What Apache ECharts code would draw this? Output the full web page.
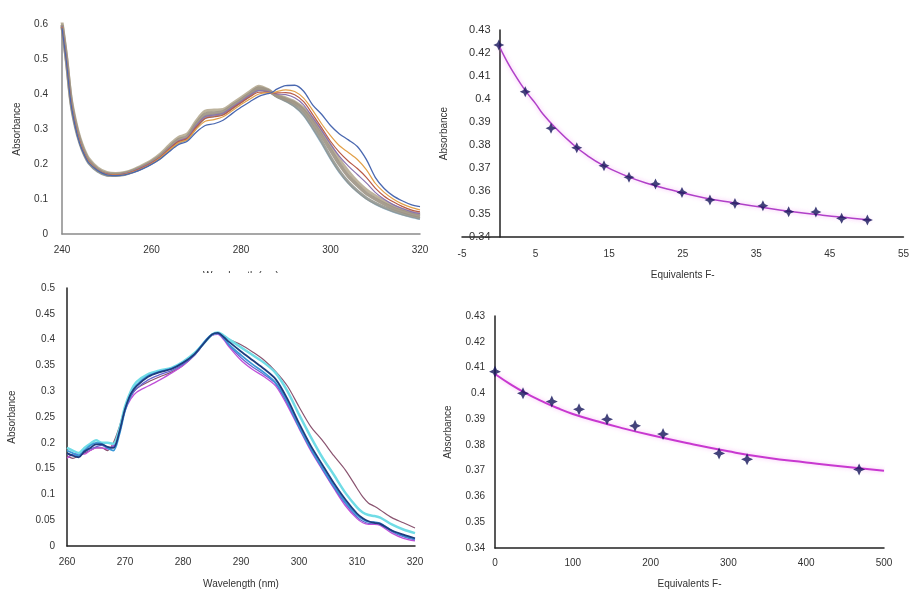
<!DOCTYPE html>
<html>
<head>
<meta charset="utf-8">
<script src="https://cdn.jsdelivr.net/npm/echarts@6/dist/echarts.min.js"></script>
<style>
  html, body { margin: 0; padding: 0; background: #fff; }
  #container { width: 912px; height: 590px; }
</style>
</head>
<body>
<div id="container"></div>
<script>
// ---- top left: titration spectra, 240-320 nm
var wl1 = [240, 241, 242, 243, 244, 245, 246, 248, 250, 252, 254, 256, 258, 260, 262, 264, 266, 268, 270, 272, 274, 276, 278, 280, 282, 284, 286, 287, 288, 290, 292, 294, 296, 298, 300, 302, 304, 306, 308, 310, 312, 314, 316, 318, 320];
var specBlue = [0.588, 0.49, 0.373, 0.305, 0.257, 0.226, 0.203, 0.181, 0.169, 0.167, 0.169, 0.176, 0.186, 0.199, 0.215, 0.236, 0.255, 0.265, 0.291, 0.31, 0.315, 0.325, 0.344, 0.362, 0.378, 0.393, 0.401, 0.405, 0.414, 0.424, 0.425, 0.408, 0.369, 0.342, 0.31, 0.286, 0.269, 0.25, 0.213, 0.162, 0.13, 0.109, 0.095, 0.084, 0.078];
var specOrange = [0.59, 0.492, 0.376, 0.308, 0.26, 0.228, 0.205, 0.182, 0.17, 0.168, 0.17, 0.178, 0.188, 0.201, 0.218, 0.24, 0.26, 0.27, 0.3, 0.322, 0.327, 0.335, 0.352, 0.37, 0.386, 0.4, 0.403, 0.403, 0.407, 0.412, 0.407, 0.388, 0.354, 0.315, 0.281, 0.252, 0.233, 0.213, 0.184, 0.145, 0.119, 0.1, 0.086, 0.076, 0.069];
var specRed = [0.592, 0.495, 0.378, 0.31, 0.262, 0.229, 0.206, 0.182, 0.171, 0.169, 0.171, 0.179, 0.19, 0.203, 0.22, 0.243, 0.264, 0.273, 0.305, 0.33, 0.335, 0.34, 0.358, 0.375, 0.392, 0.405, 0.405, 0.403, 0.403, 0.404, 0.398, 0.378, 0.342, 0.304, 0.265, 0.233, 0.208, 0.187, 0.162, 0.131, 0.108, 0.092, 0.079, 0.069, 0.063];
var specPurple = [0.594, 0.497, 0.38, 0.312, 0.264, 0.23, 0.207, 0.183, 0.171, 0.169, 0.172, 0.18, 0.191, 0.204, 0.221, 0.245, 0.266, 0.275, 0.31, 0.336, 0.34, 0.345, 0.362, 0.379, 0.397, 0.41, 0.407, 0.403, 0.4, 0.398, 0.389, 0.369, 0.333, 0.296, 0.257, 0.222, 0.194, 0.17, 0.146, 0.119, 0.099, 0.084, 0.073, 0.064, 0.058];
var specGrayHi = [0.607, 0.51, 0.393, 0.325, 0.275, 0.24, 0.215, 0.189, 0.176, 0.173, 0.176, 0.184, 0.196, 0.21, 0.229, 0.254, 0.276, 0.286, 0.323, 0.351, 0.354, 0.356, 0.372, 0.389, 0.407, 0.422, 0.413, 0.404, 0.397, 0.389, 0.378, 0.36, 0.33, 0.293, 0.254, 0.213, 0.179, 0.15, 0.127, 0.109, 0.094, 0.081, 0.071, 0.063, 0.057];
var specGrayMid = [0.597, 0.5, 0.383, 0.315, 0.267, 0.233, 0.209, 0.184, 0.172, 0.17, 0.173, 0.181, 0.192, 0.206, 0.223, 0.247, 0.269, 0.278, 0.315, 0.342, 0.346, 0.349, 0.366, 0.383, 0.401, 0.417, 0.41, 0.403, 0.395, 0.385, 0.374, 0.354, 0.32, 0.281, 0.24, 0.199, 0.165, 0.139, 0.116, 0.1, 0.086, 0.074, 0.065, 0.057, 0.051];
var specGrayLo = [0.592, 0.49, 0.373, 0.305, 0.259, 0.226, 0.203, 0.179, 0.168, 0.167, 0.17, 0.178, 0.189, 0.202, 0.218, 0.241, 0.262, 0.272, 0.307, 0.335, 0.34, 0.344, 0.36, 0.378, 0.396, 0.412, 0.408, 0.402, 0.393, 0.381, 0.366, 0.343, 0.306, 0.265, 0.22, 0.18, 0.148, 0.123, 0.103, 0.088, 0.076, 0.066, 0.058, 0.051, 0.045];
var specLightBlue = [0.59, 0.49, 0.372, 0.303, 0.256, 0.224, 0.201, 0.178, 0.167, 0.166, 0.169, 0.177, 0.188, 0.201, 0.217, 0.239, 0.259, 0.269, 0.302, 0.33, 0.336, 0.341, 0.358, 0.376, 0.394, 0.41, 0.407, 0.401, 0.392, 0.379, 0.363, 0.338, 0.3, 0.258, 0.214, 0.175, 0.144, 0.12, 0.1, 0.085, 0.073, 0.063, 0.055, 0.048, 0.042];

// ---- top right: absorbance vs equivalents F- (0-50)
var eqA = [0, 3.6, 7.1, 10.6, 14.3, 17.7, 21.3, 24.9, 28.7, 32.1, 35.9, 39.4, 43.1, 46.6, 50.1];
var absA = [0.4235, 0.4032, 0.3873, 0.3788, 0.371, 0.366, 0.363, 0.3594, 0.3561, 0.3546, 0.3536, 0.351, 0.3509, 0.3481, 0.3474];
var fitXA = [0, 1, 2, 3, 4, 5, 6, 8, 10, 12, 14, 17, 20, 24, 28, 32, 36, 40, 44, 48, 50.5];
var fitYA = [0.4235, 0.417, 0.4115, 0.4065, 0.402, 0.398, 0.3935, 0.3865, 0.3805, 0.3755, 0.3715, 0.367, 0.3635, 0.36, 0.357, 0.3548, 0.3528, 0.351, 0.3495, 0.3482, 0.3474];
var ticksXA = [-5, 5, 15, 25, 35, 45, 55];

// ---- bottom left: spectra, 260-320 nm
var wl3 = [260, 261, 262, 263, 264, 265, 266, 267, 268, 269, 270, 271, 272, 274, 276, 278, 280, 282, 284, 285, 286, 287, 288, 290, 292, 294, 296, 298, 300, 302, 304, 306, 308, 310, 311, 312, 313, 314, 316, 318, 320];
var specFree = [0.175, 0.17, 0.175, 0.18, 0.185, 0.19, 0.19, 0.185, 0.2, 0.23, 0.268, 0.29, 0.305, 0.318, 0.328, 0.337, 0.35, 0.37, 0.398, 0.408, 0.412, 0.408, 0.4, 0.39, 0.376, 0.36, 0.338, 0.31, 0.27, 0.232, 0.205, 0.175, 0.147, 0.112, 0.095, 0.083, 0.077, 0.07, 0.055, 0.045, 0.035];
var specCyan = [0.19, 0.185, 0.18, 0.19, 0.198, 0.205, 0.2, 0.2, 0.198, 0.225, 0.27, 0.3, 0.318, 0.333, 0.34, 0.345, 0.357, 0.374, 0.398, 0.41, 0.414, 0.408, 0.4, 0.385, 0.37, 0.355, 0.335, 0.3, 0.255, 0.212, 0.172, 0.138, 0.103, 0.075, 0.065, 0.06, 0.058, 0.055, 0.042, 0.032, 0.025];
var specNavy = [0.18, 0.175, 0.172, 0.183, 0.19, 0.197, 0.197, 0.192, 0.19, 0.22, 0.265, 0.295, 0.31, 0.328, 0.337, 0.343, 0.355, 0.372, 0.398, 0.41, 0.413, 0.405, 0.395, 0.377, 0.36, 0.343, 0.323, 0.285, 0.238, 0.195, 0.158, 0.122, 0.09, 0.063, 0.054, 0.048, 0.045, 0.043, 0.03, 0.022, 0.015];
var specSky = [0.185, 0.18, 0.175, 0.185, 0.195, 0.2, 0.198, 0.19, 0.185, 0.215, 0.262, 0.293, 0.312, 0.33, 0.338, 0.344, 0.355, 0.372, 0.4, 0.41, 0.412, 0.404, 0.39, 0.37, 0.352, 0.336, 0.316, 0.28, 0.232, 0.19, 0.152, 0.117, 0.085, 0.06, 0.052, 0.047, 0.046, 0.044, 0.03, 0.02, 0.014];
var specViolet = [0.178, 0.176, 0.178, 0.182, 0.188, 0.192, 0.195, 0.19, 0.192, 0.218, 0.264, 0.29, 0.305, 0.322, 0.332, 0.34, 0.352, 0.37, 0.398, 0.41, 0.412, 0.402, 0.388, 0.365, 0.347, 0.332, 0.314, 0.276, 0.23, 0.188, 0.15, 0.114, 0.082, 0.056, 0.048, 0.044, 0.044, 0.042, 0.028, 0.018, 0.012];
var specMagenta = [0.17, 0.178, 0.18, 0.178, 0.185, 0.19, 0.19, 0.188, 0.195, 0.22, 0.262, 0.285, 0.298, 0.31, 0.322, 0.335, 0.35, 0.37, 0.398, 0.408, 0.41, 0.4, 0.385, 0.36, 0.342, 0.328, 0.31, 0.272, 0.228, 0.185, 0.148, 0.112, 0.078, 0.053, 0.045, 0.042, 0.042, 0.04, 0.025, 0.015, 0.01];

// ---- bottom right: absorbance vs equivalents F- (0-500)
var eqB = [0, 36, 73, 108, 144, 180, 216, 288, 324, 468];
var absB = [0.4084, 0.4, 0.3968, 0.3938, 0.3899, 0.3874, 0.3842, 0.3767, 0.3744, 0.3705];
var fitXB = [0, 20, 40, 60, 80, 100, 130, 160, 200, 250, 300, 350, 400, 450, 500];
var fitYB = [0.4075, 0.4035, 0.4, 0.397, 0.3943, 0.392, 0.3893, 0.3868, 0.3838, 0.3805, 0.3775, 0.375, 0.3732, 0.3715, 0.37];

function pairs(xs, ys) {
  return xs.map(function(x, i) { return [x, ys[i]]; });
}

var font = "Liberation Sans";
var star = "path://M0,-10L3.2,-3.2L10,0L3.2,3.2L0,10L-3.2,3.2L-10,0L-3.2,-3.2Z";

function specLine(idx, name, xs, ys, color, width, opacity) {
  return {
    name: name,
    type: "line",
    xAxisIndex: idx,
    yAxisIndex: idx,
    data: pairs(xs, ys),
    smooth: 0.3,
    symbol: "none",
    lineStyle: { color: color, width: width, opacity: opacity === undefined ? 1 : opacity }
  };
}

function valAxis(idx, opt) {
  var base = {
    type: "value",
    gridIndex: idx,
    splitLine: { show: false },
    axisTick: { show: false },
    axisLine: { show: true, onZero: false, lineStyle: { color: "#222", width: 1.5 } },
    axisLabel: { color: "#333", fontFamily: font, fontSize: 10 },
    nameLocation: "middle",
    nameTextStyle: { color: "#333", fontFamily: font, fontSize: 10 }
  };
  for (var k in opt) {
    if (typeof opt[k] === "object" && base[k] && !Array.isArray(opt[k])) {
      for (var j in opt[k]) base[k][j] = opt[k][j];
    } else {
      base[k] = opt[k];
    }
  }
  return base;
}

var dom = document.getElementById("container");
var myChart = echarts.init(dom, null, { renderer: "canvas" });
var option = null;

option = {
  backgroundColor: "#fff",
  animation: false,
  grid: [
    { left: 62, right: 492, top: 24, bottom: 356 },
    { left: 462, right: 0, top: 30, bottom: 353 },
    { left: 67, right: 497, top: 288, bottom: 42 },
    { left: 495, right: 28, top: 316, bottom: 42 }
  ],
  xAxis: [
    valAxis(0, {
      min: 240, max: 320, interval: 20,
      name: "Wavelength (nm)", nameGap: 37,
      axisLine: { lineStyle: { color: "#8a8a8a", width: 1.5 } },
      axisLabel: { margin: 11 }
    }),
    valAxis(1, {
      min: -5, max: 55,
      name: "Equivalents F-", nameGap: 33,
      axisLabel: { margin: 12, customValues: ticksXA }
    }),
    valAxis(2, {
      min: 260, max: 320, interval: 10,
      name: "Wavelength (nm)", nameGap: 33,
      axisLabel: { margin: 11 }
    }),
    valAxis(3, {
      min: 0, max: 500, interval: 100,
      name: "Equivalents F-", nameGap: 31,
      axisLabel: { margin: 10 }
    })
  ],
  yAxis: [
    valAxis(0, {
      min: 0, max: 0.6, interval: 0.1,
      name: "Absorbance", nameGap: 40,
      axisLine: { lineStyle: { color: "#8a8a8a", width: 1.5 } },
      axisLabel: { margin: 14 }
    }),
    // this y axis stands at x = 0, not at the left edge of its grid
    valAxis(1, {
      min: 0.34, max: 0.43, interval: 0.01,
      offset: -37.5,
      name: "Absorbance", nameGap: 50,
      axisLabel: { margin: 9, fontSize: 11 }
    }),
    valAxis(2, {
      min: 0, max: 0.5, interval: 0.05,
      name: "Absorbance", nameGap: 50,
      axisLabel: { margin: 12 }
    }),
    valAxis(3, {
      min: 0.34, max: 0.43, interval: 0.01,
      name: "Absorbance", nameGap: 42,
      axisLabel: { margin: 10 }
    })
  ],
  series: [
    specLine(0, "lightblue", wl1, specLightBlue, "#9cc0dc", 1.5),
    specLine(0, "graylo", wl1, specGrayLo, "#8e908a", 3, 0.85),
    specLine(0, "grayhi", wl1, specGrayHi, "#b2a68c", 3, 0.85),
    specLine(0, "graymid", wl1, specGrayMid, "#9d9484", 3.5, 0.9),
    specLine(0, "purple", wl1, specPurple, "#8a72b0", 1.2),
    specLine(0, "red", wl1, specRed, "#b85a48", 1.2),
    specLine(0, "orange", wl1, specOrange, "#e2a048", 1.2),
    specLine(0, "blue", wl1, specBlue, "#4a68b0", 1.3),

    {
      name: "fitA", type: "line", xAxisIndex: 1, yAxisIndex: 1,
      data: pairs(fitXA, fitYA), smooth: true, symbol: "none",
      lineStyle: { color: "#b040c8", width: 1.5, shadowColor: "rgba(240,120,240,0.6)", shadowBlur: 4 }
    },
    {
      name: "pointsA", type: "scatter", xAxisIndex: 1, yAxisIndex: 1,
      data: pairs(eqA, absA), symbol: star, symbolSize: 11, z: 5,
      itemStyle: { color: "#14145a" }
    },

    specLine(2, "free", wl3, specFree, "#8a5470", 1.2),
    specLine(2, "magenta", wl3, specMagenta, "#c050d8", 1.3),
    specLine(2, "violet", wl3, specViolet, "#6a64d0", 1.3),
    specLine(2, "cyan", wl3, specCyan, "#70dce6", 2.5),
    specLine(2, "sky", wl3, specSky, "#3a98d8", 1.8),
    specLine(2, "navy", wl3, specNavy, "#1e3c7e", 1.8),

    {
      name: "fitB", type: "line", xAxisIndex: 3, yAxisIndex: 3,
      data: pairs(fitXB, fitYB), smooth: true, symbol: "none",
      lineStyle: { color: "#c838d0", width: 2, shadowColor: "rgba(245,140,240,0.6)", shadowBlur: 4 }
    },
    {
      name: "pointsB", type: "scatter", xAxisIndex: 3, yAxisIndex: 3,
      data: pairs(eqB, absB), symbol: star, symbolSize: 12, z: 5,
      itemStyle: { color: "#14145a" }
    }
  ],
  graphic: [
    // bottom of the top-left axis title is cut off in the original
    { type: "rect", shape: { x: 150, y: 273, width: 180, height: 9 }, style: { fill: "#fff" }, z: 100 }
  ]
};

if (option && typeof option === "object") {
  myChart.setOption(option, true);
}
</script>
</body>
</html>
